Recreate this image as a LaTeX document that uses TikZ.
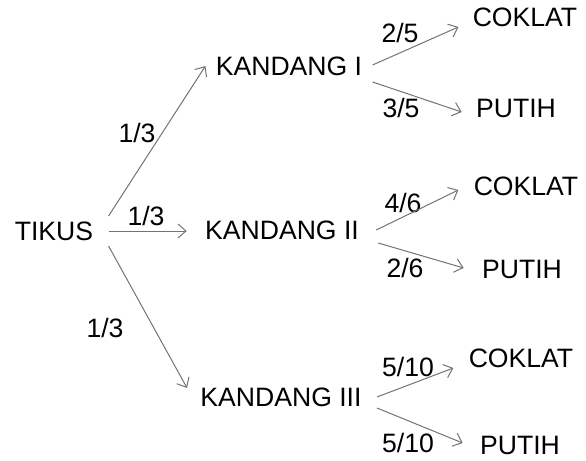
\documentclass[tikz,border=0pt]{standalone}
\usepackage{fontspec}
\setmainfont{Liberation Sans}
\usetikzlibrary{arrows.meta,calc,positioning}
\tikzset{
    -{Straight Barb[length=4pt,width=7pt]},semithick,
    branch/.style = {draw=black!55, line width=0.5pt},
    el/.style = {inner sep=0pt, font=\fontsize{13.3}{15}\selectfont}
}

\begin{document}
\begin{tikzpicture}[x=0.5pt,y=-0.5pt]
	\tikzstyle{t}=[inner sep = 0, font = \fontsize{13.3}{15}\selectfont]
	\useasboundingbox (0,0) rectangle (586,461);

	\node[t] (tikus) at (54,231) {TIKUS};
	\node[t] (k1) at (289,66) {KANDANG I};
	\node[t] (k2) at (282,230) {KANDANG II};
	\node[t] (k3) at (281,397) {KANDANG III};
	\node[t] (c1) at (525,17) {COKLAT};
	\node[t] (p1) at (516,108) {PUTIH};
	\node[t] (c2) at (526,186) {COKLAT};
	\node[t] (p2) at (522,269) {PUTIH};
	\node[t] (c3) at (521,358) {COKLAT};
	\node[t] (p3) at (520,445) {PUTIH};

	\node[el] (l1) at (137,133) {1/3};
	\node[el] (l2) at (146,216) {1/3};
	\node[el] (l3) at (105,328) {1/3};
	\node[el] (l4) at (400,33) {2/5};
	\node[el] (l5) at (401,108) {3/5};
	\node[el] (l6) at (403,203) {4/6};
	\node[el] (l7) at (405,268) {2/6};
	\node[el] (l8) at (408,367) {5/10};
	\node[el] (l9) at (408,443) {5/10};

    \draw[branch] ([shift={(15,-15)}]tikus.east) -- ([shift={(-10,0)}]k1.west);
    \draw[branch] ([shift={(15,0)}]tikus.east) -- ([shift={(-18,1)}]k2.west);
    \draw[branch] ([shift={(15,15)}]tikus.east) -- ([shift={(-13,-9)}]k3.west);
    \draw[branch] ([shift={(10,-1)}]k1.east) -- ([shift={(-14,10)}]c1.west);
    \draw[branch] ([shift={(10,16)}]k1.east) -- ([shift={(-14,4)}]p1.west);
    \draw[branch] ([shift={(17,0)}]k2.east) -- ([shift={(-15,4)}]c2.west);
    \draw[branch] ([shift={(19,13)}]k2.east) -- ([shift={(-18,-1)}]p2.west);
    \draw[branch] ([shift={(15,0)}]k3.east) -- ([shift={(-15,10)}]c3.west);
    \draw[branch] ([shift={(15,11)}]k3.east) -- ([shift={(-17,-2)}]p3.west);
\end{tikzpicture}
\end{document}
